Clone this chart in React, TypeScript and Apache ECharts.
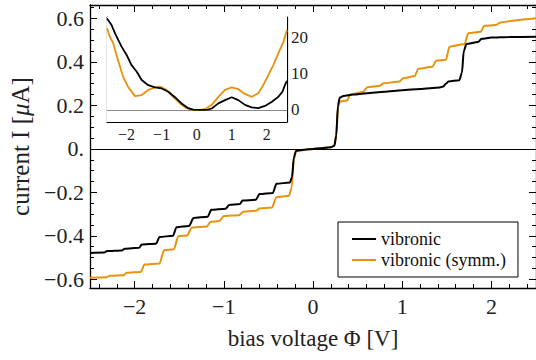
import React, { useEffect, useRef } from "react";
import * as echarts from "echarts";

// ---- data ----
const vibronicMain: [number, number][] = [
  [-2.5, -0.479], [-2.34, -0.477], [-2.31, -0.470], [-2.14, -0.467], [-2.11, -0.459],
  [-1.95, -0.455], [-1.92, -0.440], [-1.76, -0.436], [-1.72, -0.405], [-1.57, -0.400],
  [-1.53, -0.360], [-1.39, -0.355], [-1.34, -0.318], [-1.18, -0.312], [-1.14, -0.280],
  [-0.98, -0.275], [-0.94, -0.258], [-0.82, -0.254], [-0.79, -0.238], [-0.64, -0.234],
  [-0.60, -0.208], [-0.45, -0.203], [-0.41, -0.160], [-0.26, -0.155], [-0.235, -0.13],
  [-0.215, -0.04], [-0.19, -0.008], [-0.1, -0.004], [0, 0], [0.1, 0.003], [0.2, 0.007],
  [0.24, 0.015], [0.26, 0.06], [0.28, 0.2], [0.3, 0.236], [0.34, 0.243], [0.45, 0.25],
  [0.6, 0.256], [0.8, 0.263], [1.0, 0.27], [1.2, 0.276], [1.42, 0.283], [1.46, 0.287],
  [1.49, 0.3], [1.52, 0.31], [1.64, 0.316], [1.67, 0.35], [1.69, 0.45], [1.72, 0.482],
  [1.85, 0.492], [1.89, 0.507], [2.0, 0.512], [2.2, 0.515], [2.5, 0.516],
];

const symmMain: [number, number][] = [
  [-2.5, -0.593], [-2.31, -0.59], [-2.28, -0.584], [-2.12, -0.581], [-2.09, -0.57],
  [-1.93, -0.566], [-1.89, -0.532], [-1.72, -0.527], [-1.67, -0.466], [-1.56, -0.462],
  [-1.51, -0.402], [-1.41, -0.398], [-1.36, -0.362], [-1.19, -0.357], [-1.15, -0.336],
  [-1.05, -0.332], [-1.0, -0.309], [-0.83, -0.305], [-0.78, -0.289], [-0.64, -0.285],
  [-0.6, -0.274], [-0.46, -0.27], [-0.41, -0.222], [-0.27, -0.216], [-0.24, -0.18],
  [-0.215, -0.05], [-0.19, -0.01], [-0.1, -0.005], [0, 0], [0.1, 0.004], [0.2, 0.008],
  [0.24, 0.016], [0.26, 0.06], [0.28, 0.19], [0.3, 0.217], [0.38, 0.223], [0.42, 0.25],
  [0.56, 0.262], [0.61, 0.284], [0.75, 0.29], [0.79, 0.302], [0.97, 0.31], [1.01, 0.325],
  [1.14, 0.335], [1.18, 0.368], [1.34, 0.378], [1.38, 0.406], [1.49, 0.41], [1.53, 0.47],
  [1.7, 0.483], [1.74, 0.532], [1.88, 0.539], [1.92, 0.566], [2.05, 0.57], [2.1, 0.582],
  [2.24, 0.589], [2.38, 0.596], [2.5, 0.601],
];

const vibronicInset: [number, number][] = [
  [-2.56, 25.1], [-2.43, 23.3], [-2.33, 21.0], [-2.24, 19.2], [-2.14, 17.3], [-2.0, 15.1],
  [-1.86, 12.3], [-1.71, 10.5], [-1.57, 8.2], [-1.38, 6.8], [-1.19, 6.2], [-1.0, 5.9],
  [-0.81, 5.0], [-0.62, 3.5], [-0.43, 1.8], [-0.24, 0.5], [-0.1, 0.1], [0.1, 0], [0.33, 0.1],
  [0.43, 0.4], [0.62, 1.8], [0.81, 2.7], [1.0, 3.5], [1.19, 2.7], [1.38, 1.4], [1.57, 0.7],
  [1.76, 0.5], [1.95, 1.1], [2.14, 2.2], [2.33, 3.6], [2.45, 5.0], [2.52, 6.8], [2.58, 8.0],
];

const symmInset: [number, number][] = [
  [-2.56, 22.4], [-2.48, 20.1], [-2.38, 18.3], [-2.29, 15.1], [-2.19, 11.9], [-2.1, 9.1],
  [-1.95, 6.2], [-1.76, 3.8], [-1.57, 4.1], [-1.38, 5.5], [-1.19, 6.2], [-1.05, 6.4],
  [-0.86, 5.5], [-0.67, 3.6], [-0.48, 1.8], [-0.29, 0.5], [-0.1, 0], [0.1, 0], [0.24, 0.2],
  [0.43, 1.4], [0.62, 3.6], [0.81, 5.5], [1.0, 6.2], [1.19, 5.7], [1.38, 4.4], [1.57, 3.6],
  [1.76, 4.6], [1.9, 6.8], [2.05, 9.6], [2.19, 12.3], [2.33, 15.5], [2.48, 18.7], [2.58, 21.9],
];

// tick labels / tick positions
const mainXTicks = [-2, -1, 0, 1, 2];
const mainXMinor = [-2.4, -2.2, -1.8, -1.6, -1.4, -1.2, -0.8, -0.6, -0.4, -0.2, 0.2, 0.4, 0.6, 0.8, 1.2, 1.4, 1.6, 1.8, 2.2, 2.4];
const mainYTicks = [-0.6, -0.4, -0.2, 0, 0.2, 0.4, 0.6];
const mainYMinor = [-0.55, -0.5, -0.45, -0.35, -0.3, -0.25, -0.15, -0.1, -0.05, 0.05, 0.1, 0.15, 0.25, 0.3, 0.35, 0.45, 0.5, 0.55, 0.65];
const insetXTicks = [-2, -1, 0, 1, 2];
const insetYTicks = [0, 10, 20];

const BLACK = "#000000";
const ORANGE = "#e8920e";
const FONT = "Liberation Serif";

const fmtMain = (v: number) => {
  if (Math.abs(v) < 1e-9) return "0.";
  const s = Math.abs(v).toFixed(1);
  return v < 0 ? "\u2212" + s : s;
};
const fmtInt = (v: number) => (v < 0 ? "\u2212" + Math.abs(v) : String(v));

const X_MIN = -2.5, X_MAX = 2.5, Y_MIN = -0.64, Y_MAX = 0.662;
const IX_MIN = -2.56, IX_MAX = 2.58, IY_MIN = -3.3, IY_MAX = 25.5;

function axisBase(extra: any) {
  return {
    type: "value",
    splitLine: { show: false },
    axisLine: { show: false, onZero: false },
    axisLabel: { show: false },
    axisTick: { show: false },
    ...extra,
  };
}

export default function App() {
  const ref = useRef<HTMLDivElement>(null);
  useEffect(() => {
    if (!ref.current) return;
    const chart = echarts.init(ref.current, null, { renderer: "svg" });
    const tick = (vals: number[], len: number) => ({
      show: true, inside: true, length: len, customValues: vals,
      lineStyle: { color: BLACK, width: 1 },
    });
    const line = (w: number) => ({ show: true, onZero: false, lineStyle: { color: BLACK, width: w } });
    const mainX = { gridIndex: 0, min: X_MIN, max: X_MAX };
    const mainY = { gridIndex: 0, min: Y_MIN, max: Y_MAX };
    const insX = { gridIndex: 1, min: IX_MIN, max: IX_MAX };
    const insY = { gridIndex: 1, min: IY_MIN, max: IY_MAX };

    const option: any = {
      animation: false,
      backgroundColor: "#fff",
      textStyle: { fontFamily: FONT },
      grid: [
        { left: 89, top: 5, width: 448, height: 283 },
        { left: 107, top: 17, width: 180, height: 105, show: true, backgroundColor: "#fff", borderWidth: 0, z: 5 },
      ],
      legend: {
        left: 338, top: 222, orient: "vertical",
        backgroundColor: "#fff", borderColor: BLACK, borderWidth: 1, borderRadius: 0,
        padding: [8, 12, 8, 14], itemGap: 3, itemWidth: 24, itemHeight: 2,
        icon: "rect",
        textStyle: { fontFamily: FONT, fontSize: 18, color: "#111" },
        data: [
          { name: "vibronic", itemStyle: { color: BLACK } },
          { name: "vibronic (symm.)", itemStyle: { color: ORANGE } },
        ],
      },
      xAxis: [
        axisBase({
          ...mainX, position: "bottom", axisLine: line(1.3),
          axisTick: tick(mainXTicks, 7),
          axisLabel: { show: true, customValues: mainXTicks, formatter: fmtInt, fontFamily: FONT, fontSize: 22, color: "#222", margin: 7 },
          name: "bias voltage \u03a6 [V]", nameLocation: "middle", nameGap: 39,
          nameTextStyle: { fontFamily: FONT, fontSize: 23, color: "#222" },
        }),
        axisBase({ ...mainX, position: "bottom", axisTick: tick(mainXMinor, 4) }),
        axisBase({ ...mainX, position: "top", axisLine: line(1.3), axisTick: tick(mainXTicks, 7) }),
        axisBase({ ...mainX, position: "top", axisTick: tick(mainXMinor, 4) }),
        axisBase({
          ...insX, position: "bottom", axisLine: line(1.2),
          axisTick: tick(insetXTicks, 5),
          axisLabel: { show: true, customValues: insetXTicks, formatter: fmtInt, fontFamily: FONT, fontSize: 16, color: "#222", margin: 4 },
        }),
        axisBase({ ...insX, position: "top", axisLine: line(1.2), axisTick: tick(insetXTicks, 5) }),
      ],
      yAxis: [
        axisBase({
          ...mainY, position: "left", axisLine: line(1.3),
          axisTick: tick(mainYTicks, 7),
          axisLabel: { show: true, customValues: mainYTicks, formatter: fmtMain, fontFamily: FONT, fontSize: 22, color: "#222", margin: 6 },
          name: "current I [{it|\u03bc}A]", nameLocation: "middle", nameGap: 57, nameRotate: 90,
          nameTextStyle: {
            fontFamily: FONT, fontSize: 25, color: "#222",
            rich: { it: { fontFamily: FONT, fontSize: 25, fontStyle: "italic", color: "#222" } },
          },
        }),
        axisBase({ ...mainY, position: "left", axisTick: tick(mainYMinor, 4) }),
        axisBase({ ...mainY, position: "right", axisLine: line(1.3), axisTick: tick(mainYTicks, 7) }),
        axisBase({ ...mainY, position: "right", axisTick: tick(mainYMinor, 4) }),
        axisBase({ ...insY, position: "left", axisLine: line(1.2), axisTick: tick(insetYTicks, 5) }),
        axisBase({
          ...insY, position: "right", axisLine: line(1.2),
          axisTick: tick(insetYTicks, 5),
          axisLabel: { show: true, customValues: insetYTicks, formatter: fmtInt, fontFamily: FONT, fontSize: 17, color: "#222", margin: 4 },
        }),
      ],
      series: [
        {
          name: "vibronic", type: "line", xAxisIndex: 0, yAxisIndex: 0,
          data: vibronicMain, showSymbol: false, smooth: 0.25, smoothMonotone: "x",
          lineStyle: { color: BLACK, width: 2 }, itemStyle: { color: BLACK }, z: 3,
          markLine: {
            silent: true, symbol: "none", label: { show: false },
            lineStyle: { color: BLACK, width: 1, type: "solid" },
            data: [{ yAxis: 0 }],
          },
        },
        {
          name: "vibronic (symm.)", type: "line", xAxisIndex: 0, yAxisIndex: 0,
          data: symmMain, showSymbol: false, smooth: 0.25, smoothMonotone: "x",
          lineStyle: { color: ORANGE, width: 2 }, itemStyle: { color: ORANGE }, z: 2,
        },
        {
          name: "vibronic (symm.)", type: "line", xAxisIndex: 4, yAxisIndex: 4,
          data: symmInset, showSymbol: false, smooth: false,
          lineStyle: { color: ORANGE, width: 1.8 }, itemStyle: { color: ORANGE }, z: 6,
          markLine: {
            silent: true, symbol: "none", label: { show: false },
            lineStyle: { color: "#888", width: 1.2, type: "solid" },
            data: [{ yAxis: 0 }],
          },
        },
        {
          name: "vibronic", type: "line", xAxisIndex: 4, yAxisIndex: 4,
          data: vibronicInset, showSymbol: false, smooth: false,
          lineStyle: { color: BLACK, width: 1.8 }, itemStyle: { color: BLACK }, z: 6,
        },
      ],
    };
    chart.setOption(option);
    return () => chart.dispose();
  }, []);
  return <div ref={ref} style={{ width: 536, height: 360, position: "absolute", left: 0, top: 0 }} />;
}
